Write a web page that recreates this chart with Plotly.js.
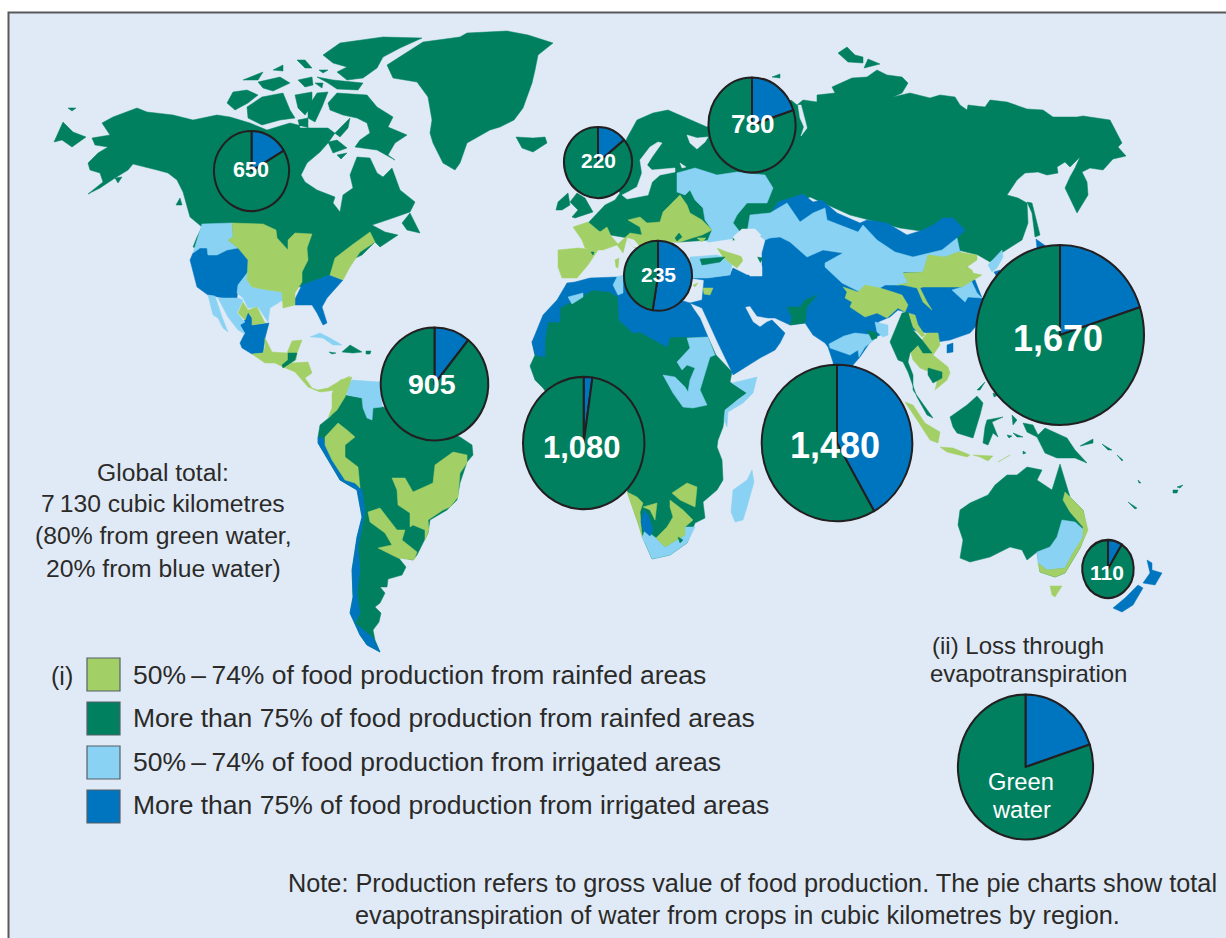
<!DOCTYPE html>
<html><head><meta charset="utf-8">
<script src="https://cdn.plot.ly/plotly-3.0.1.min.js"></script>
<style>html,body{margin:0;padding:0;background:#fff}#chart{width:1226px;height:938px}</style>
</head><body><div id="chart"></div>
<script>
// ---- Data (map units = reference pixels) ----
const regionTotals=[650,220,780,235,1670,905,1080,1480,110];
const regionLabels=['650','220','780','235','1,670','905','1,080','1,480','110'];
const blueShare=[0.165,0.14,0.2,0.525,0.2,0.108,0.023,0.418,0.09];
const pieCx=[251.5,598,752,658,1060,434.5,583.7,837,1108];
const pieCy=[171,162.5,125,275.7,335,384,443,443,569];
const pieRx=[37.5,34,43.5,34,84,53.8,60.7,75.3,25.7];
const pieRy=[40,35.5,47.5,35,90,56.5,66.2,78.3,29];
const labelSize=[21.5,21,26,21,36,28.5,31,36,21];
const labelX=[251,598,752.5,658,1058,432,582,834.5,1107];
const labelY=[169.5,160.5,123.5,274.5,338,383.5,447,445.5,572.5];
const globalShares=[20,80];
const legendLabels=['50%\u2009\u2013\u200974% of food production from rainfed areas','More than 75% of food production from rainfed areas','50%\u2009\u2013\u200974% of food production from irrigated areas','More than 75% of food production from irrigated areas'];

const rainfedHigh=[
[88,194,100,188,115,178,128,170,133,164,142,166,157,170,168,173,177,180,183,192,187,205,190,217,202,227,197,237,193,247,230,260,300,287,330,275,343,268,347,262,362,255,375,242,380,247,398,235,385,232,372,225,387,220,410,212,415,202,400,190,392,168,383,177,377,173,370,158,357,157,350,175,353,188,343,195,340,212,333,203,335,197,317,190,305,182,301,175,307,163,320,152,328,143,335,133,350,118,348,128,340,137,328,128,310,128,290,123,267,130,250,123,230,117,217,115,193,120,173,115,147,112,137,108,113,117,102,123,110,135,92,138,95,145,108,147,98,153,88,163,90,170,100,173,103,182],
[54,142,63,122,73,132,86,137,72,147,62,140],[68,108,76,108,72,111],[115,178,122,177,118,183],[176,205,180,198,182,205],
[402,223,410,213,420,233,407,230],
[247,107,262,97,283,93,290,110,295,118,280,120,262,125,248,118],[227,103,233,92,247,90,258,95,248,103,235,110],
[295,95,312,92,312,105,305,115,298,108],[308,107,317,93,328,92,322,107,315,122,308,118],[298,120,308,118,308,128,300,128],
[328,103,337,93,367,95,377,107,393,117,388,127,407,135,395,143,388,155,395,160,377,150,355,147,360,140,370,133,367,123,357,118,343,115,330,110],
[328,142,337,140,347,148,333,153],[337,155,347,153,341,159],
[323,55,340,43,383,37,422,38,400,48,383,57,377,68,363,78,347,80,337,72,347,67,333,63],[317,77,333,80,363,83,358,90,337,89,328,83],
[243,80,263,72,258,80],[258,82,280,77,290,83,273,91,263,88],[273,70,283,65,283,71],[297,60,305,60,312,68,305,68],[298,80,312,77,313,85,305,87],[315,83,323,83,322,88],[319,70,328,70,323,73],
[387,65,423,42,460,37,467,33,507,31,528,35,553,43,538,55,535,70,532,83,523,108,514,120,500,127,490,130,467,143,460,163,455,170,443,163,433,143,430,133,432,120,428,97,417,82,393,78],
[516,137,533,138,545,137,547,143,533,152,522,148],
[556,210,558,202,568,193,570,205,562,210],[570,202,577,193,585,198,593,212,575,218,572,217,578,210],
[588,223,605,205,615,200,620,193,612,178,627,138,637,120,653,113,668,110,687,118,707,127,720,120,775,115,791,100,797,105,803,100,817,102,817,95,835,93,832,87,852,78,867,77,877,70,887,75,902,77,908,83,902,93,893,97,910,93,930,98,940,95,955,97,960,105,967,110,968,105,985,107,990,100,1007,102,1027,109,1043,110,1053,117,1077,117,1083,116,1085,122,1083,116,1110,120,1122,143,1118,147,1126,156,1113,159,1103,170,1090,168,1082,172,1087,182,1088,195,1077,213,1065,188,1070,177,1075,168,1080,157,1070,167,1065,162,1057,167,1058,173,1047,175,1038,172,1025,173,1017,180,1007,195,1018,198,1027,203,1028,223,1022,240,1003,252,990,262,978,255,958,250,955,236,900,228,850,215,810,197,790,205,770,225,745,240,733,240,725,240,710,240,680,242,640,240,610,235,590,228],
[1027,202,1032,203,1040,235,1035,237,1032,213],[838,53,847,47,855,55,863,57,863,63,848,62],[864,68,868,59,880,64],[772,77,780,74,780,78],
[532,342,545,320,570,295,600,285,620,290,640,325,670,335,708,337,716,355,732,372,730,382,747,393,737,400,725,413,723,427,718,440,717,447,722,460,723,480,717,490,703,502,705,518,695,523,687,543,670,555,652,559,645,543,638,523,627,490,610,480,600,450,560,420,555,405,543,388,535,380,530,366,535,355],
[330,417,345,395,363,398,383,407,460,437,472,445,473,455,467,462,460,483,457,500,447,510,430,520,428,533,417,555,413,560,398,557,406,567,402,575,388,579,387,587,380,587,385,593,380,603,375,607,381,613,379,622,373,630,375,640,380,652,367,645,360,635,350,613,353,597,352,570,357,537,362,517,357,490,340,480,330,463,318,443,318,437,320,425],
[342,352,350,345,362,352,353,353],[329,352,336,353,332,354],[366,351,371,351,370,354,366,354],
[960,510,970,503,988,495,995,485,1007,475,1017,475,1027,467,1042,470,1037,480,1052,490,1060,464,1070,497,1083,510,1087,530,1080,548,1065,573,1055,577,1040,572,1037,552,1027,560,1022,550,1010,547,990,557,970,562,960,558,963,540,958,525],
[950,417,967,405,977,396,983,403,980,415,973,438,957,433,953,427],[987,420,1003,417,992,422,998,437,993,433,988,445,983,443,985,427],
[1023,423,1033,425,1038,435,1045,428,1067,438,1075,450,1087,463,1075,458,1057,458,1045,453,1037,437,1027,432],[1080,446,1093,439,1093,443],
[977,390,985,382,980,390],[993,393,998,395,994,397],[1012,415,1017,420,1013,425],[1007,435,1012,436,1009,438],[1013,433,1023,437,1017,437],[1023,451,1026,453,1023,454],
[1102,444,1112,450,1108,450],[1117,455,1123,460,1122,461],[1128,502,1137,508,1135,509],[1138,480,1141,483,1139,483],[1173,490,1178,490,1177,493,1173,493],[1177,487,1183,485,1180,488]
];
const irrigatedHigh=[
[690,278,707,278,730,275,733,268,747,275,762,276,762,253,765,242,770,215,778,202,803,194,813,202,822,200,837,213,860,223,867,220,887,223,907,235,923,230,933,225,943,218,953,218,965,230,957,238,960,252,968,268,975,280,982,298,984,300,977,325,970,333,950,340,937,342,927,333,913,330,905,312,898,310,890,317,878,322,885,333,873,338,860,357,853,365,850,380,835,385,833,362,828,347,825,343,813,335,805,323,790,325,775,318,768,318,757,316,750,306,745,307,753,322,760,327,767,322,772,320,785,333,780,343,775,350,760,358,733,375,730,368,718,343,712,330,702,308,690,303,702,300,704,280],
[532,342,543,315,557,300,567,283,575,282,590,278,617,277,625,278,680,300,690,303,693,308,700,318,708,337,670,337,667,347,640,332,633,333,619,320,618,297,610,292,593,290,575,300,560,308,560,322,548,322,545,340,545,357,535,355],
[190,260,193,253,200,248,207,248,208,255,217,255,227,250,238,248,248,260,248,272,238,285,237,298,223,298,208,295,197,287,193,273],
[293,303,302,285,330,275,343,280,327,298,322,307,327,323,323,325,317,313,312,305,295,305],
[248,312,252,318,252,325,265,323,269,323,265,338,263,353,252,354,242,348,240,343,245,333,240,325,245,320],
[318,437,323,438,330,455,342,473,357,485,362,490,365,512,362,527,358,547,360,570,357,593,360,613,355,623,373,638,377,647,380,652,367,645,360,635,350,613,353,597,352,570,357,537,362,517,357,490,340,480,330,463,318,443],
[1147,560,1152,563,1152,570,1162,573,1155,585,1143,583,1150,573],[1138,585,1143,588,1133,605,1122,612,1113,608,1125,598],
[1036,239,1047,247,1037,248],[994,272,1000,270,997,277],[947,345,953,343,953,352,947,353]
];
const irrigatedMid=[
[747,233,750,215,770,213,787,203,800,222,813,213,825,208,827,220,858,232,863,225,877,240,895,252,913,257,942,250,957,238,960,252,945,257,928,257,923,272,903,272,908,283,897,285,885,285,880,288,860,292,842,283,825,267,825,263,843,253,823,250,807,257,790,242,780,237,770,238,765,240,755,232],
[677,173,695,168,717,175,737,172,765,175,773,188,767,203,747,203,737,215,733,223,740,232,733,238,727,245,707,242,712,230,705,220,703,208,695,200,690,190,685,195,677,192],
[690,257,717,255,723,257,732,265,730,275,707,278,690,278],
[829,344,844,336,855,333,873,335,874,340,865,347,859,357,858,350,850,355,830,348],
[952,290,962,287,970,278,977,293,982,298,968,297,965,302],[988,265,1002,250,1003,257,997,268,992,272],
[568,297,583,293,583,297,572,304],[617,277,623,275,623,293,618,295,613,285],
[687,338,708,337,715,355,710,357,700,390,707,405,693,408,683,407,673,393,663,375,675,377,685,387,688,392,690,380,695,368,687,365,682,370,677,362,690,348],
[732,383,757,377,753,393,743,403,728,412,727,427,724,420,725,410,735,402,747,393],
[752,470,754,482,747,507,743,520,735,522,731,512,733,490,747,480],
[642,538,645,530,656,538,665,547,685,535,685,527,695,527,687,543,670,555,652,559,645,543],
[218,298,238,298,243,300,237,313,245,322,240,325,245,334,238,330,228,317],[208,295,215,296,222,317,228,332,223,328,218,318,213,315],
[248,272,238,285,237,293,243,298,248,308,258,307,268,322,270,308,283,300,282,292,268,290,252,287,247,280],
[202,224,232,223,233,237,228,240,238,248,227,250,217,255,208,255,207,248,200,248,193,253,197,240],
[310,337,320,333,330,338,342,345,333,345,323,338,313,337],
[345,387,352,380,380,382,382,407,373,408,372,420,367,418,363,408,362,398,347,395],
[1062,520,1075,522,1084,530,1082,540,1073,553,1065,568,1047,570,1038,563,1037,552,1050,547,1057,537],
[875,322,888,325,888,335,883,337,877,332]
];
const rainfedMid=[
[573,227,588,222,600,232,607,227,611,236,618,244,630,233,642,235,640,227,628,220,640,217,647,223,660,222,663,212,680,195,687,205,690,213,702,220,712,230,702,235,692,238,680,242,657,242,643,250,633,247,627,238,623,253,617,245,603,250,593,250,585,248,582,240],
[558,250,578,248,598,250,588,265,577,278,562,278,558,267],[615,260,619,258,618,268,616,267],
[697,238,706,238,702,242],
[717,248,727,252,737,255,745,258,737,268,730,263,723,257],[703,288,713,288,710,295,704,294],[693,285,698,283,695,287],
[232,223,263,224,276,230,277,238,288,250,288,240,295,233,312,234,307,248,308,260,302,272,302,282,295,293,295,305,283,308,282,292,268,290,252,287,247,280,248,260,238,248,228,240,233,237],
[330,275,335,258,352,245,370,232,375,242,360,252,350,267,343,280],
[238,313,243,302,248,310,257,307,265,323,252,325,252,318,248,312,245,320],
[265,338,272,352,287,353,292,341,302,340,297,353,296,360,290,363,308,362,312,373,305,378,312,388,318,390,328,388,338,382,350,376,337,390,320,392,308,387,302,380,295,372,283,367,275,363,265,363,252,354,263,353,265,347],
[352,377,345,395,345,397,337,410,328,418,332,408,332,393,340,380],
[325,437,338,423,347,430,355,437,345,445,345,457,358,467,360,488,355,483,345,480,332,460,325,445],
[392,478,405,478,413,492,433,483,435,465,453,452,467,455,467,463,460,473,458,497,450,507,443,510,428,520,429,530,425,540,425,530,413,525,410,527,410,513,398,505,397,490],
[368,512,380,508,397,530,405,530,402,540,417,552,414,560,398,558,378,548,392,545,385,533,370,522],
[903,273,923,272,928,255,945,257,958,252,977,255,977,260,967,267,972,270,973,273,982,275,970,282,962,287,923,287,920,288,927,302,932,310,923,302,917,288,903,285,897,285,908,283],
[843,287,847,292,845,298,852,302,850,307,865,317,877,313,887,318,898,308,905,312,908,305,902,295,893,292,880,288,865,285,858,292],
[908,313,913,327,922,337,925,335,918,325,915,315],
[910,350,918,345,927,333,938,333,940,345,933,355,948,367,950,373,947,380,935,390,937,382,932,373,920,368,913,360],
[627,492,637,497,643,503,640,512,642,537,638,523],[643,507,657,503,655,520,650,510],
[670,500,683,510,693,520,685,527,685,535,665,547,656,538,667,527,673,517,670,507],[672,493,687,483,697,487,695,507,680,500],
[1065,492,1083,510,1088,530,1080,548,1065,573,1055,577,1040,572,1038,563,1047,570,1065,568,1073,553,1083,537,1083,527,1070,512,1063,500],
[1050,586,1062,586,1055,597,1052,595],
[905,402,913,405,925,423,940,432,938,443,930,440,917,420],[940,447,953,448,970,455,967,457,947,452],[973,455,993,456,988,461,980,457],[998,462,1010,455,1002,460]
];
const rainfedHighPatches=[
[787,307,800,307,805,300,817,295,807,307,805,323,790,325,792,317],[700,259,725,257,720,262,702,265],[757,257,763,258,760,263],
[288,353,297,353,295,360,283,368,282,365,288,360],[867,330,877,333,877,338,872,340],
[890,342,902,313,908,312,913,330,922,340,932,353,923,353,918,345,910,353,908,362,913,375,913,390,933,418,927,415,917,397,908,372,903,362,898,360],
[928,368,942,372,942,378,933,383,928,375],[678,537,683,540,680,543],[591,252,594,252,593,255],[675,238,679,233,682,237,677,241]
];
const irrigatedHighPatches=[[644,510,648,515,653,530,650,536,643,530,641,522]];
const waterBodies=[
[658,142,662,143,652,157,647,165,652,170,675,168,675,172,660,175,652,182,648,195,627,199,622,195,628,192,637,187,642,173,640,160,650,147],
[687,135,697,138,708,137,705,142,697,149,690,143],[680,163,686,167,682,168],
[733,237,742,229,755,229,761,235,750,245,752,253,755,253,762,267,762,276,750,276,744,263,738,245],
[798,105,801,105,805,120,807,128,801,136,804,127,800,118],
[627,238,634,240,640,247,633,247],
[707,243,733,239,727,246,718,248,702,246]
];
const WATER='#e0eaf6',DGREEN='#018060',BLUE='#0075bf',LBLUE='#89d2f3',LGREEN='#a2d067',INK='#231f20',TEXT='#2b2a29';

const flat=(polys,axis)=>polys.flatMap(p=>{const o=p.filter((_,i)=>i%2===axis);o.push(o[0],null);return o;});
const region=(name,polys,color)=>({type:'scatter',mode:'lines',name,x:flat(polys,0),y:flat(polys,1),fill:'toself',fillcolor:color,line:{width:0.5,color},hoverinfo:'skip',showlegend:false,connectgaps:false});
const W=1226,H=938;
const pie=(vals,cx,cy,rx)=>({type:'pie',values:vals,labels:['Blue water','Green water'],sort:false,direction:'clockwise',rotation:0,textinfo:'none',hoverinfo:'none',showlegend:false,
 marker:{colors:[BLUE,DGREEN],line:{color:INK,width:2}},domain:{x:[(cx-rx)/W,(cx+rx)/W],y:[1-(cy+rx)/H,1-(cy-rx)/H]}});

const traces=[
 region('More than 75% rainfed',rainfedHigh,DGREEN),
 region('More than 75% irrigated',irrigatedHigh,BLUE),
 region('50-74% irrigated',irrigatedMid,LBLUE),
 region('50-74% rainfed',rainfedMid,LGREEN),
 region('More than 75% rainfed (enclaves)',rainfedHighPatches,DGREEN),
 region('More than 75% irrigated (enclaves)',irrigatedHighPatches,BLUE),
 region('Seas and lakes',waterBodies,WATER)
];
regionTotals.forEach((t,i)=>traces.push(pie([t*blueShare[i],t*(1-blueShare[i])],pieCx[i],pieCy[i],pieRx[i])));
const keyPie={cx:1025.5,cy:767,rx:67.6,ry:72.5};
traces.push(pie(globalShares,keyPie.cx,keyPie.cy,keyPie.rx));
const allRx=pieRx.concat(keyPie.rx),allRy=pieRy.concat(keyPie.ry),allCy=pieCy.concat(keyPie.cy);

const ann=(text,x,y,size,color,anchor)=>({text,x,y,xref:'x',yref:'y',xanchor:anchor||'center',yanchor:'middle',showarrow:false,font:{family:'Liberation Sans, Arial, sans-serif',size,color}});
const annotations=regionLabels.map((t,i)=>ann('<b>'+t+'</b>',labelX[i],labelY[i],labelSize[i],'#fff'));
[['Global total:',163,472],['7\u2009130 cubic kilometres',163,503],['(80% from green water,',163,535],['20% from blue water)',163,568]].forEach(a=>annotations.push(ann(a[0],a[1],a[2],24.7,TEXT)));
annotations.push(ann('(i)',49,676,25,TEXT,'left'));
const legendY=[675,718,762,805];
legendLabels.forEach((t,i)=>annotations.push(ann(t,131,legendY[i],26.5,TEXT,'left')));
annotations.push(ann('(ii) Loss through',1018,645,24,TEXT),ann('evapotranspiration',1028,673,24,TEXT));
annotations.push(ann('Green',1021,782,23.7,'#fff'),ann('water',1021,810,23.7,'#fff'));
annotations.push(ann('Note: Production refers to gross value of food production. The pie charts show total',1219,883,25.3,TEXT,'right'));
annotations.push(ann('evapotranspiration of water from crops in cubic kilometres by region.',737,915,25.3,TEXT));

const swatchColors=[LGREEN,DGREEN,LBLUE,BLUE];
const swatchTop=[658,702,746,790];
const shapes=[{type:'rect',xref:'x',yref:'y',x0:8.5,y0:12.5,x1:1300,y1:1000,fillcolor:WATER,line:{color:'#58595b',width:2},layer:'below'}];
swatchColors.forEach((c,i)=>shapes.push({type:'rect',xref:'x',yref:'y',x0:87,x1:120,y0:swatchTop[i],y1:swatchTop[i]+33,fillcolor:c,line:{color:'#555f68',width:1.2},layer:'below'}));

const layout={width:W,height:H,margin:{l:0,r:0,t:0,b:0},paper_bgcolor:'#fff',plot_bgcolor:'rgba(0,0,0,0)',showlegend:false,
 xaxis:{range:[0,W],visible:false,fixedrange:true},yaxis:{range:[H,0],visible:false,fixedrange:true},shapes,annotations};
Plotly.newPlot('chart',traces,layout,{displayModeBar:false,staticPlot:true}).then(()=>{
 // the source pies are printed slightly taller than wide
 document.querySelectorAll('#chart .pielayer g.trace').forEach((g,i)=>{
  const s=allRy[i]/allRx[i],cy=allCy[i];
  g.setAttribute('transform','translate(0,'+(cy-cy*s)+') scale(1,'+s+')');
 });
});
</script></body></html>
